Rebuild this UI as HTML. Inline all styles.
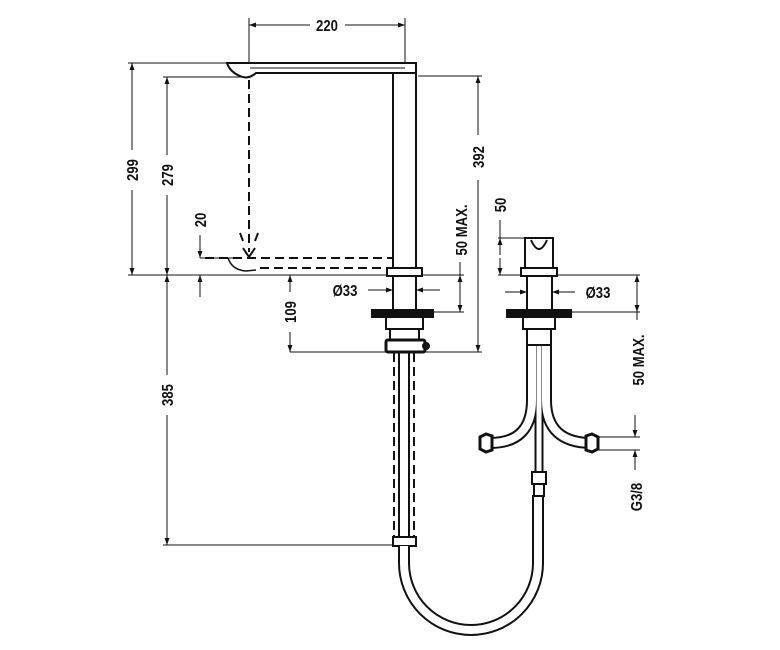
<!DOCTYPE html>
<html><head><meta charset="utf-8"><style>
html,body{margin:0;padding:0;background:#fff;}
svg{display:block}
text{font-family:"Liberation Sans",sans-serif;font-weight:bold;font-size:16px;fill:#111}
</style></head><body>
<svg width="780" height="650" viewBox="0 0 780 650" xmlns="http://www.w3.org/2000/svg">
<defs>
<marker id="a" viewBox="0 0 10 10" refX="10" refY="5" markerWidth="7" markerHeight="7" orient="auto-start-reverse"><path d="M0,1.5 L10,5 L0,8.5 z" fill="#111"/></marker>
</defs>
<g stroke="#111" stroke-width="1" fill="none">
<line x1="249" y1="18" x2="249" y2="75"/><line x1="405" y1="18" x2="405" y2="70"/>
<line x1="249" y1="25" x2="310" y2="25" marker-start="url(#a)"/><line x1="345" y1="25" x2="405" y2="25" marker-end="url(#a)"/>
<line x1="128" y1="63" x2="228" y2="63"/><line x1="128" y1="275" x2="390" y2="275"/>
<line x1="132" y1="63" x2="132" y2="150" marker-start="url(#a)"/><line x1="132" y1="190" x2="132" y2="275" marker-end="url(#a)"/>
<line x1="163" y1="77" x2="250" y2="77"/>
<line x1="167" y1="77" x2="167" y2="155" marker-start="url(#a)"/><line x1="167" y1="195" x2="167" y2="275" marker-end="url(#a)"/>
<line x1="167" y1="275" x2="167" y2="375" marker-start="url(#a)"/><line x1="167" y1="415" x2="167" y2="545" marker-end="url(#a)"/>
<line x1="163" y1="545" x2="395" y2="545"/>
<line x1="200" y1="258" x2="240" y2="258"/>
<line x1="200" y1="235" x2="200" y2="258" marker-end="url(#a)"/><line x1="200" y1="297" x2="200" y2="275" marker-end="url(#a)"/>
<line x1="290" y1="275" x2="290" y2="292" marker-start="url(#a)"/><line x1="290" y1="332" x2="290" y2="352" marker-end="url(#a)"/>
<line x1="290" y1="352" x2="482" y2="352"/>
<line x1="418" y1="76" x2="482" y2="76"/>
<line x1="478" y1="76" x2="478" y2="135" marker-start="url(#a)"/><line x1="478" y1="180" x2="478" y2="352" marker-end="url(#a)"/>
<line x1="422" y1="275" x2="464" y2="275"/><line x1="433" y1="312" x2="464" y2="312"/>
<line x1="460" y1="262" x2="460" y2="312" marker-end="url(#a)"/>
<line x1="460" y1="290" x2="460" y2="275" marker-end="url(#a)"/>
<line x1="368" y1="290" x2="393" y2="290" marker-end="url(#a)"/><line x1="440" y1="290" x2="416" y2="290" marker-end="url(#a)"/>
<line x1="498" y1="238" x2="525" y2="238"/><line x1="498" y1="275" x2="640" y2="275"/>
<line x1="500" y1="220" x2="500" y2="238"/>
<line x1="500" y1="255" x2="500" y2="238" marker-end="url(#a)"/><line x1="500" y1="258" x2="500" y2="275" marker-end="url(#a)"/>
<line x1="505" y1="292" x2="527" y2="292" marker-end="url(#a)"/><line x1="575" y1="292" x2="552" y2="292" marker-end="url(#a)"/>
<line x1="571" y1="312" x2="640" y2="312"/>
<line x1="637" y1="275" x2="637" y2="312" marker-start="url(#a)" marker-end="url(#a)"/>
<line x1="637" y1="312" x2="637" y2="320"/>
<line x1="598" y1="437" x2="640" y2="437"/><line x1="598" y1="450" x2="640" y2="450"/>
<line x1="635" y1="415" x2="635" y2="437" marker-end="url(#a)"/><line x1="635" y1="470" x2="635" y2="450" marker-end="url(#a)"/>
</g>
<g stroke="#111" stroke-width="2" fill="none">
<path d="M227,63 H416 V73 H256 Q248,80 240,76 Q230,72 227,63 Z" fill="#fff"/>
<line x1="250" y1="68" x2="405" y2="68" stroke-width="1"/>
<rect x="393" y="73" width="23" height="195" fill="#fff"/>
<rect x="387" y="268" width="35" height="8" fill="#fff"/>
<rect x="393" y="276" width="23" height="34" fill="#fff"/>
<rect x="372" y="310" width="61" height="7" fill="#111"/>
<rect x="386" y="317" width="37" height="12" fill="#fff"/>
<rect x="390" y="329" width="29" height="11" fill="#fff"/>
<rect x="386" y="340" width="39" height="12" rx="2" fill="#fff" stroke-width="3"/>
<circle cx="426" cy="346" r="3" fill="#111"/>
<path d="M228,258 Q232,270 246,271 L256,270" stroke-width="1.5"/>
</g>
<g stroke="#111" stroke-width="2" fill="none" stroke-dasharray="9,5">
<line x1="249" y1="80" x2="249" y2="252"/>
<line x1="205" y1="258" x2="393" y2="258"/>
<line x1="260" y1="268" x2="393" y2="268"/>
<line x1="394" y1="353" x2="394" y2="537"/><line x1="414" y1="353" x2="414" y2="537"/>
</g>
<g stroke="#111" stroke-width="2" fill="none">
<path d="M243,248 L249,257 L255,248"/>
<line x1="240" y1="233" x2="243" y2="241"/><line x1="258" y1="233" x2="255" y2="241"/>
<line x1="399" y1="352" x2="399" y2="537"/><line x1="409" y1="352" x2="409" y2="537"/>
<rect x="393" y="537" width="23" height="9" fill="#fff"/>
</g>
<g fill="none" stroke="#111" stroke-width="12">
<path d="M404,546 V563 A67,67 0 0 0 538,563 V495"/>
<path d="M532,345 V400 Q532,443 490,443"/>
<path d="M546,345 V400 Q546,443 592,443"/>
<path d="M539,345 V472" stroke-width="9"/>
</g>
<g fill="none" stroke="#fff" stroke-width="8">
<path d="M404,546 V563 A67,67 0 0 0 538,563 V495"/>
<path d="M532,345 V400 Q532,443 490,443"/>
<path d="M546,345 V400 Q546,443 592,443"/>
<path d="M539,345 V472" stroke-width="5"/>
</g>
<g stroke="#111" stroke-width="2" fill="#fff">
<path d="M480,437 L486,434 L492,436 L492,450 L486,452 L480,449 Z" stroke-width="3"/>
<path d="M598,437 L592,434 L586,436 L586,450 L592,452 L598,449 Z" stroke-width="3"/>
<rect x="532" y="472" width="14" height="12"/>
<rect x="534" y="484" width="10" height="12"/>
<path d="M525,238 H553 V268 H525 Z"/>
<path d="M531,240 Q539,258 547,240" fill="none"/>
<rect x="521" y="268" width="36" height="8"/>
<rect x="527" y="276" width="25" height="34"/>
<rect x="507" y="310" width="64" height="7" fill="#111"/>
<rect x="523" y="317" width="32" height="12"/>
<rect x="527" y="329" width="24" height="16"/>
</g>
<g text-anchor="middle">
<text transform="translate(327,31) scale(0.82,1)">220</text>
<text transform="translate(138,170) rotate(-90) scale(0.82,1)">299</text>
<text transform="translate(173,175) rotate(-90) scale(0.82,1)">279</text>
<text transform="translate(206,220) rotate(-90) scale(0.82,1)">20</text>
<text transform="translate(296,312) rotate(-90) scale(0.82,1)">109</text>
<text transform="translate(173,395) rotate(-90) scale(0.82,1)">385</text>
<text transform="translate(484,157) rotate(-90) scale(0.82,1)">392</text>
<text transform="translate(467,230) rotate(-90) scale(0.82,1)">50 MAX.</text>
<text transform="translate(345,296) scale(0.82,1)">Ø33</text>
<text transform="translate(506,205) rotate(-90) scale(0.82,1)">50</text>
<text transform="translate(598,298) scale(0.82,1)">Ø33</text>
<text transform="translate(644,360) rotate(-90) scale(0.82,1)">50 MAX.</text>
<text transform="translate(642,497) rotate(-90) scale(0.82,1)">G3/8</text>
</g>
</svg>
</body></html>
